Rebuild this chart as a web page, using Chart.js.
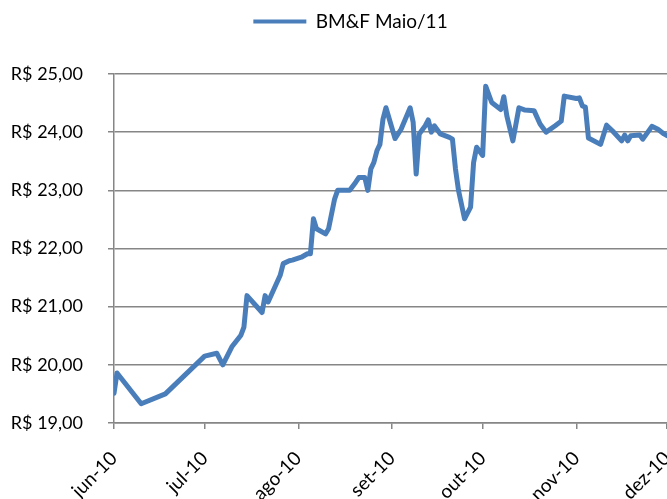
<!DOCTYPE html>
<html>
<head>
<meta charset="utf-8">
<script src="https://cdn.jsdelivr.net/npm/chart.js@4.4.0/dist/chart.umd.min.js"></script>
<style>
  html, body { margin: 0; padding: 0; background: #fff; overflow: hidden; }
</style>
</head>
<body>
<canvas id="grafico" width="667" height="499"></canvas>
<script>
// BM&F Maio/11 - cotação diária, jun a dez/2010
// dias contados a partir de 01/06/2010
const dias = [0, 1, 9, 17, 30, 34, 36, 39, 42, 43, 44, 49, 50, 51, 55, 56, 58, 59, 62, 64,
    65, 66, 67, 70, 71, 73, 74, 78, 80, 81, 83, 84, 85, 86, 87, 88, 89, 90, 93, 95,
    98, 99, 100, 101, 103, 104, 105, 106, 108, 111, 112, 113, 114, 116, 118, 119, 120, 122, 123, 125,
    128, 129, 130, 132, 134, 136, 139, 141, 143, 146, 148, 149, 153, 154, 155, 156, 157, 161, 163, 165,
    168, 169, 170, 171, 174, 175, 178, 180, 182, 183];
const precos = [19.51, 19.86, 19.33, 19.50, 20.15, 20.20, 20.00, 20.31, 20.51, 20.65, 21.19, 20.90, 21.19, 21.08, 21.54, 21.74, 21.79, 21.80, 21.85, 21.91,
    21.91, 22.51, 22.34, 22.25, 22.34, 22.85, 23.00, 23.00, 23.14, 23.22, 23.22, 23.00, 23.37, 23.48, 23.68, 23.79, 24.22, 24.42, 23.89, 24.05,
    24.42, 24.17, 23.28, 23.97, 24.11, 24.21, 24.00, 24.11, 23.97, 23.91, 23.88, 23.37, 23.00, 22.51, 22.71, 23.48, 23.74, 23.60, 24.79, 24.51,
    24.39, 24.61, 24.28, 23.85, 24.42, 24.38, 24.37, 24.14, 24.00, 24.11, 24.19, 24.62, 24.58, 24.59, 24.45, 24.43, 23.90, 23.79, 24.12, 24.02,
    23.85, 23.95, 23.85, 23.94, 23.95, 23.88, 24.10, 24.05, 23.97, 23.94];
const marcasDias = [0, 30, 61, 92, 122, 153, 183];
const marcasRotulos = ['jun-10', 'jul-10', 'ago-10', 'set-10', 'out-10', 'nov-10', 'dez-10'];
const valoresY = [19, 20, 21, 22, 23, 24, 25];

const pontos = dias.map((d, i) => ({ x: d, y: precos[i] }));

const cinza = '#868686';
const azul = '#4a7ebb';

// no Excel a legenda fica um pouco à direita do centro
const deslocaLegenda = {
    id: 'deslocaLegenda',
    afterLayout(chart) { if (chart.legend) chart.legend.left = 34; }
};

new Chart(document.getElementById('grafico'), {
    type: 'line',
    data: {
        datasets: [{
            label: 'BM&F Maio/11',
            data: pontos,
            borderColor: azul,
            backgroundColor: azul,
            borderWidth: 5,
            borderJoinStyle: 'round',
            borderCapStyle: 'round',
            pointRadius: 0,
            tension: 0,
            fill: false
        }]
    },
    plugins: [deslocaLegenda],
    options: {
        responsive: false,
        animation: false,
        layout: { padding: 0 },
        plugins: {
            tooltip: { enabled: false },
            // título vazio só pra abrir espaço entre a legenda e o gráfico
            title: { display: true, text: '', weight: 500, font: { size: 10, lineHeight: 1 }, padding: 11.5 },
            legend: {
                position: 'top',
                labels: {
                    color: '#000',
                    font: { family: 'Lato', size: 19 },
                    boxWidth: 53,
                    boxHeight: 4,
                    padding: 12,
                    generateLabels: (chart) => {
                        const itens = Chart.defaults.plugins.legend.labels.generateLabels(chart);
                        itens.forEach(it => { it.lineWidth = 0; it.fillStyle = azul; });
                        return itens;
                    }
                }
            }
        },
        scales: {
            x: {
                type: 'linear',
                min: 0,
                max: 183,
                afterBuildTicks: (s) => { s.ticks = marcasDias.map(v => ({ value: v })); },
                afterFit: (s) => { s.height = 76; s.paddingLeft = 0; s.paddingRight = 0; },
                ticks: {
                    autoSkip: false,
                    minRotation: 45,
                    maxRotation: 45,
                    color: '#000',
                    font: { family: 'Lato', size: 19 },
                    padding: 18,
                    callback: (v) => marcasRotulos[marcasDias.indexOf(v)]
                },
                grid: { drawOnChartArea: false, drawTicks: true, tickLength: 6, color: cinza, lineWidth: 1.5 },
                border: { display: true, color: cinza, width: 1.5 }
            },
            y: {
                min: 19,
                max: 25,
                afterBuildTicks: (s) => { s.ticks = valoresY.map(v => ({ value: v })); },
                afterFit: (s) => { s.width = 114; },
                ticks: {
                    color: '#000',
                    font: { family: 'Lato', size: 18 },
                    padding: 25,
                    callback: (v) => 'R$ ' + v.toFixed(2).replace('.', ',')
                },
                grid: { color: cinza, lineWidth: 1.5, tickLength: 6, drawTicks: true },
                border: { display: true, color: cinza, width: 1.5 }
            }
        }
    }
});
</script>
</body>
</html>
